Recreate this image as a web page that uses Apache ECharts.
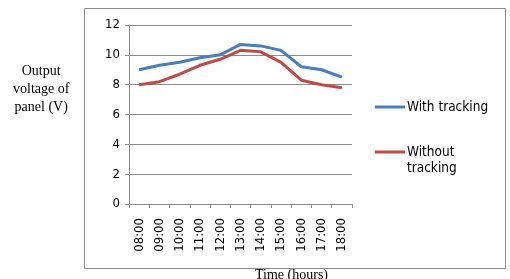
<!DOCTYPE html>
<html><head><meta charset="utf-8">
<script src="https://cdn.jsdelivr.net/npm/echarts@6/dist/echarts.min.js"></script>
<style>html,body{margin:0;padding:0;background:#fff;}#c{width:510px;height:279px;}</style>
</head><body><div id="c"></div>
<script>
const categories = ['08:00','09:00','10:00','11:00','12:00','13:00','14:00','15:00','16:00','17:00','18:00'];
const withTracking = [9.0, 9.3, 9.5, 9.8, 10.0, 10.7, 10.6, 10.3, 9.2, 9.0, 8.5];
const withoutTracking = [8.0, 8.2, 8.7, 9.3, 9.7, 10.3, 10.2, 9.5, 8.3, 8.0, 7.8];
const seriesNames = ['With tracking', 'Without tracking'];
const legendLines = {'With tracking': ['With tracking'], 'Without tracking': ['Without', 'tracking']};
const yTitle = 'Output\nvoltage of\npanel (V)';
const xTitle = 'Time (hours)';

const chart = echarts.init(document.getElementById('c'), null, {renderer: 'canvas'});
const axisColor = '#8c8c8c';
const sansFont = 'DejaVu Sans Condensed, DejaVu Sans';
chart.setOption({
  animation: false,
  grid: {left: 129, top: 25, width: 223, height: 179, containLabel: false},
  legend: {
    orient: 'vertical', left: 375, top: 97.5, itemGap: 26, padding: 0,
    itemWidth: 30, itemHeight: 3, icon: 'rect',
    textStyle: {fontFamily: sansFont, fontSize: 13.5, color: '#000', lineHeight: 19, padding: [0,0,0,-3]},
    formatter: n => legendLines[n][0],
    data: seriesNames
  },
  xAxis: {
    type: 'category', data: categories, boundaryGap: true,
    axisLine: {lineStyle: {color: axisColor}},
    axisTick: {show: true, length: 4, inside: false, lineStyle: {color: axisColor}},
    axisLabel: {rotate: 90, color: '#000', fontFamily: sansFont, fontSize: 13, margin: 14, interval: 0}
  },
  yAxis: {
    type: 'value', min: 0, max: 12, interval: 2,
    axisLine: {show: true, lineStyle: {color: axisColor}},
    axisTick: {show: true, length: 4, lineStyle: {color: axisColor}},
    splitLine: {lineStyle: {color: axisColor}},
    axisLabel: {color: '#000', fontFamily: sansFont, fontSize: 13, margin: 9}
  },
  graphic: [
    {type: 'rect', shape: {x: 84.5, y: 8.5, width: 421, height: 260}, style: {fill: 'none', stroke: '#8c8c8c', lineWidth: 1}, z: -1},
    {type: 'text', left: 13, top: 62, style: {text: yTitle, font: '14px "Liberation Serif", serif', fill: '#000', textAlign: 'center', lineHeight: 18, x: 32}},
    {type: 'text', left: 255, top: 268, style: {text: xTitle, font: '14px "Liberation Serif", serif', fill: '#000'}},
    {type: 'text', left: 407, top: 161, style: {text: legendLines['Without tracking'][1], font: '13.5px "DejaVu Sans Condensed", "DejaVu Sans"', fill: '#000'}}
  ],
  series: [
    {name: seriesNames[0], type: 'line', data: withTracking, symbol: 'none', lineStyle: {color: '#4a7ebb', width: 3}, itemStyle: {color: '#4a7ebb'}},
    {name: seriesNames[1], type: 'line', data: withoutTracking, symbol: 'none', lineStyle: {color: '#be4b48', width: 3}, itemStyle: {color: '#be4b48'}}
  ]
});
</script></body></html>
